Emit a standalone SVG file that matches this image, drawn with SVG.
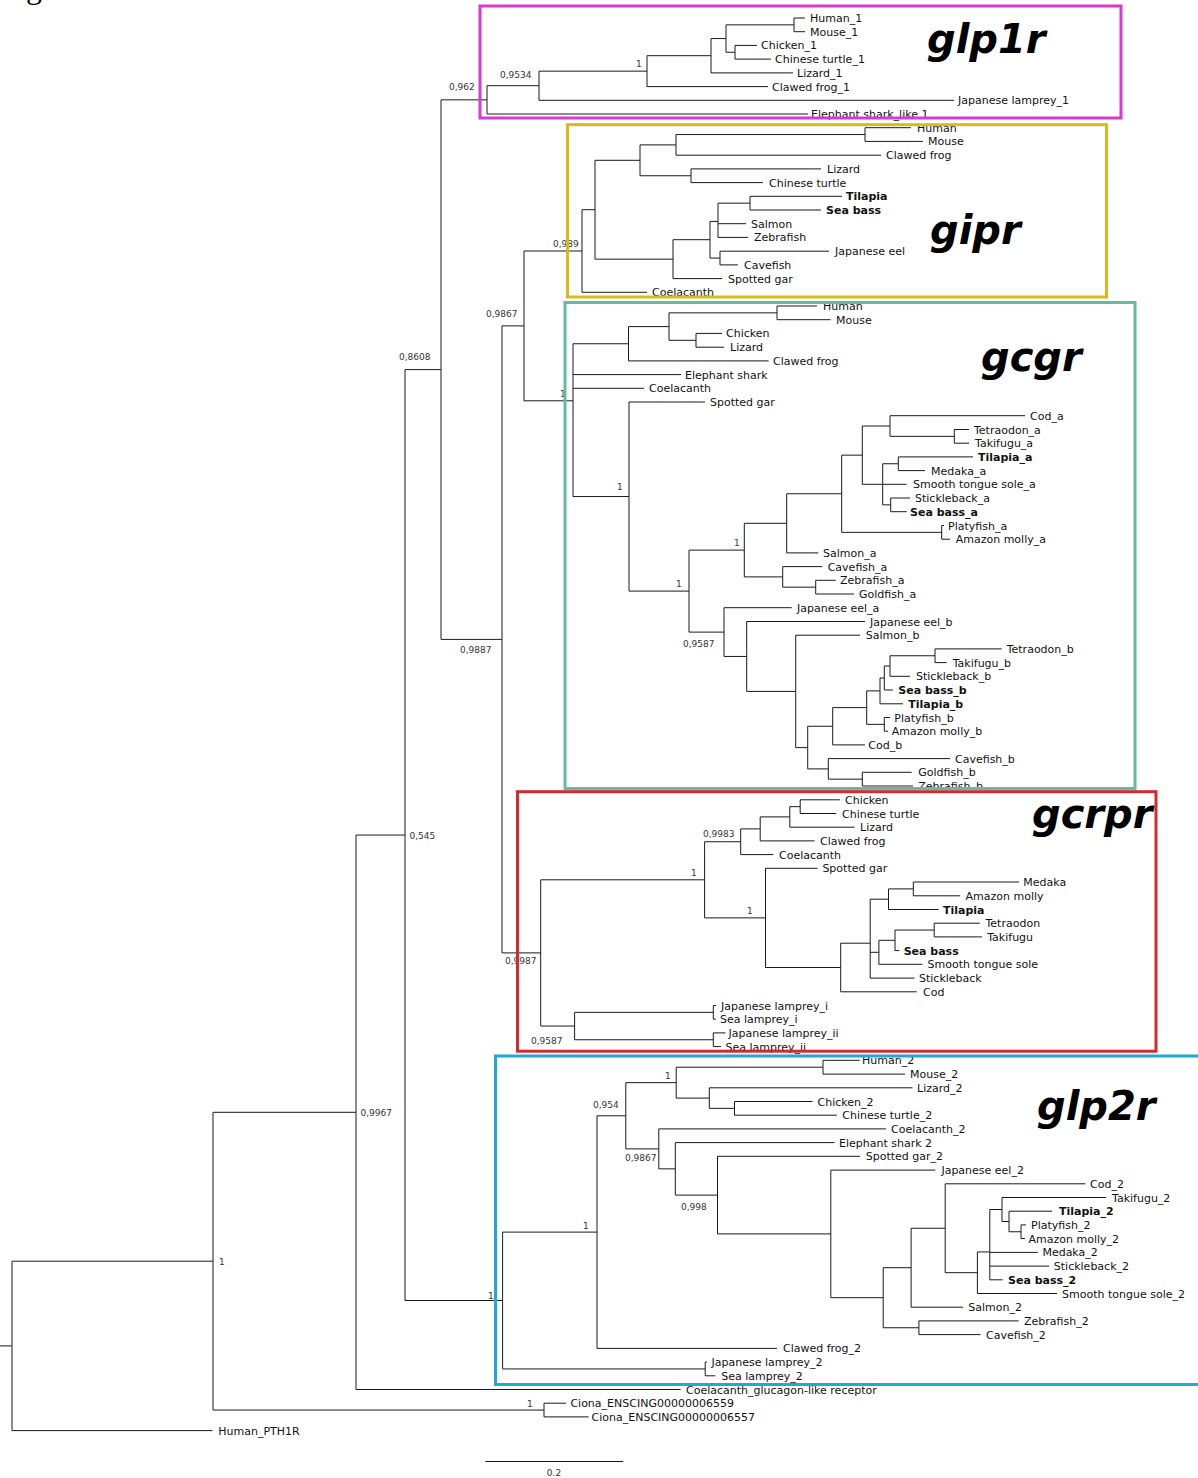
<svg xmlns="http://www.w3.org/2000/svg" width="1198" height="1478" viewBox="0 0 1198 1478">
<style>
.br{fill:none;stroke:#1a1a1a;stroke-width:1}
.t{font-family:"DejaVu Sans",sans-serif;font-size:11px;fill:#111}
.b{font-weight:bold}
.s{font-family:"DejaVu Sans",sans-serif;font-size:9px;fill:#333}
.ttl{font-family:"DejaVu Sans",sans-serif;font-size:40px;font-weight:bold;font-style:italic;fill:#000}
.box{fill:none;stroke-width:3}
</style>
<rect width="1198" height="1478" fill="#fff"/>
<text x="26" y="-2" font-family="Liberation Serif" font-size="32" fill="#000">g</text>
<g id="connectors">
<path class="br" d="M0 1345.9H12 M12 1261.2V1430.6 M12 1261.2H213 M12 1430.6H212.5 M213 1112.3V1410.05 M213 1112.3H356 M213 1410.05H544 M544 1403.2V1416.9 M544 1403.2H566 M544 1416.9H588.7 M356 835.05V1389.5 M356 835.05H405 M356 1389.5H680.6 M405 369.6V1300.5 M405 369.6H441 M405 1300.5H502.6 M441 99.85V639.4 M441 99.85H487 M441 639.4H502 M502 325.9V952.9 M502 325.9H524 M502 952.9H540.7 M524 251V400.8 M524 251H582 M524 400.8H573"/>
<path class="br" d="M487 85.7V114 M487 85.7H539 M487 114H808 M539 71.15V100.3 M539 71.15H647 M539 100.3H954 M647 55.7V86.6 M647 55.7H711 M647 86.6H768 M711 38.55V72.9 M711 38.55H726 M711 72.9H793 M726 24.85V52.25 M726 24.85H794 M726 52.25H735 M794 18V31.7 M794 18H805 M794 31.7H805 M735 45.4V59.1 M735 45.4H757 M735 59.1H771"/>
<path class="br" d="M582 209.7V292.3 M582 209.7H595 M582 292.3H647 M595 160.3V259.15 M595 160.3H640 M595 259.15H673 M640 144.9V175.75 M640 144.9H676 M640 175.75H691 M676 134.55V155.2 M676 134.55H865 M676 155.2H881 M865 127.7V141.4 M865 127.7H911 M865 141.4H923 M691 168.9V182.6 M691 168.9H821 M691 182.6H763 M673 239.7V278.6 M673 239.7H710 M673 278.6H722 M710 221.4V258.05 M710 221.4H718 M710 258.05H720 M718 203.15V237.4 M718 203.15H750 M718 223.7H746 M718 237.4H748 M750 196.3V210 M750 196.3H842 M750 210H821 M720 251.2V264.9 M720 251.2H829 M720 264.9H738"/>
<path class="br" d="M573 343.75V496.55 M573 343.75H628.5 M573 374.6H681 M573 388.3H644 M573 496.55H629 M628.5 326.6V360.9 M628.5 326.6H669 M628.5 360.9H768.6 M669 312.85V340.3 M669 312.85H777 M669 340.3H696 M777 306V319.7 M777 306H817 M777 319.7H830.6 M696 333.4V347.2 M696 333.4H722 M696 347.2H724 M629 402V591.1 M629 402H705 M629 591.1H689 M689 550.1V632.1 M689 550.1H744.3 M689 632.1H724 M744.3 523.3V576.9 M744.3 523.3H786.7 M744.3 576.9H782.7 M786.7 493.75V552.9 M786.7 493.75H841.7 M786.7 552.9H818.3 M841.7 455.15V532.35 M841.7 455.15H862.3 M841.7 532.35H941.7 M862.3 426V484.3 M862.3 426H890 M862.3 484.3H882.7 M890 415.7V436.35 M890 415.7H1025 M890 436.35H954.3 M954.3 429.5V443.2 M954.3 429.5H969 M954.3 443.2H969 M882.7 463.75V504.85 M882.7 463.75H898.3 M882.7 484.3H906.7 M882.7 504.85H890.7 M898.3 456.9V470.6 M898.3 456.9H973 M898.3 470.6H925 M890.7 498V511.7 M890.7 498H910 M890.7 511.7H906.7 M941.7 525.5V539.2 M941.7 525.5H944 M941.7 539.2H950 M782.7 566.6V587.15 M782.7 566.6H822.3 M782.7 587.15H815.7 M815.7 580.3V594 M815.7 580.3H835.7 M815.7 594H854 M724 607.7V656.45 M724 607.7H791.7 M724 656.45H746.7 M746.7 621.5V691.4 M746.7 621.5H865 M746.7 691.4H795.7 M795.7 635.2V747.6 M795.7 635.2H860 M795.7 747.6H807.7 M807.7 726.25V768.9 M807.7 726.25H832.7 M807.7 768.9H828.3 M832.7 707.6V744.9 M832.7 707.6H866.7 M832.7 744.9H865 M866.7 690.9V724.35 M866.7 690.9H880 M866.7 724.35H884.3 M880 678V703.8 M880 678H884.3 M880 703.8H903 M884.3 666V690 M884.3 666H890 M884.3 690H893 M890 655.75V676.3 M890 655.75H935 M890 676.3H910 M935 648.9V662.6 M935 648.9H1001.7 M935 662.6H946.7 M884.3 717.5V731.2 M884.3 717.5H890 M884.3 731.2H888 M828.3 758.6V779.15 M828.3 758.6H950 M828.3 779.15H862.3 M862.3 772.3V786 M862.3 772.3H911.7 M862.3 786H913"/>
<path class="br" d="M540.7 879.8V1026.05 M540.7 879.8H704.6 M540.7 1026.05H574.6 M704.6 841.75V917.9 M704.6 841.75H740.7 M704.6 917.9H765.5 M740.7 828.9V854.6 M740.7 828.9H760.2 M740.7 854.6H773.3 M760.2 816.9V840.9 M760.2 816.9H789.8 M760.2 840.9H814.6 M789.8 806.65V827.2 M789.8 806.65H800.2 M789.8 827.2H854.6 M800.2 799.8V813.5 M800.2 799.8H839.8 M800.2 813.5H836.3 M765.5 868.3V967.5 M765.5 868.3H817.6 M765.5 967.5H840.7 M840.7 943.2V991.8 M840.7 943.2H870.2 M840.7 991.8H916.8 M870.2 899.2V978.1 M870.2 899.2H888.5 M870.2 952.3H878.9 M870.2 978.1H914.6 M888.5 888.9V909.5 M888.5 888.9H913.3 M888.5 909.5H938.5 M913.3 882V895.8 M913.3 882H1019 M913.3 895.8H960.2 M878.9 940.3V964.3 M878.9 940.3H895 M878.9 964.3H922.4 M895 930.05V950.6 M895 930.05H934.2 M895 950.6H899.4 M934.2 923.2V936.9 M934.2 923.2H979.8 M934.2 936.9H982 M574.6 1012.35V1039.75 M574.6 1012.35H713.3 M574.6 1039.75H713.3 M713.3 1005.5V1019.2 M713.3 1005.5H716 M713.3 1019.2H716 M713.3 1032.9V1046.6 M713.3 1032.9H725.5 M713.3 1046.6H721"/>
<path class="br" d="M502.6 1232.1V1368.95 M502.6 1232.1H597 M502.6 1368.95H705.2 M705.2 1362.1V1375.8 M705.2 1362.1H707 M705.2 1375.8H715.3 M597 1115.8V1348.4 M597 1115.8H625.8 M597 1348.4H777 M625.8 1082.65V1148.9 M625.8 1082.65H676.2 M625.8 1148.9H658.8 M676.2 1067.2V1098.1 M676.2 1067.2H823 M676.2 1098.1H709.3 M823 1060.3V1074.1 M823 1060.3H859.7 M823 1074.1H905 M709.3 1087.8V1108.35 M709.3 1087.8H912.5 M709.3 1108.35H734.5 M734.5 1101.5V1115.2 M734.5 1101.5H812.5 M734.5 1115.2H836.8 M658.8 1128.9V1168.85 M658.8 1128.9H886 M658.8 1168.85H675.3 M675.3 1142.6V1195.1 M675.3 1142.6H834.5 M675.3 1195.1H717.5 M717.5 1156.3V1233.9 M717.5 1156.3H860 M717.5 1233.9H830.8 M830.8 1170.1V1297.7 M830.8 1170.1H935.4 M830.8 1297.7H883.2 M883.2 1267.7V1327.75 M883.2 1267.7H911.1 M883.2 1327.75H918.9 M918.9 1320.9V1334.6 M918.9 1320.9H1018.6 M918.9 1334.6H980.6 M911.1 1228.25V1307.2 M911.1 1228.25H945.2 M911.1 1307.2H963.2 M945.2 1183.8V1272.7 M945.2 1183.8H1085.4 M945.2 1272.7H977.4 M977.4 1251.95V1293.5 M977.4 1251.95H989.8 M977.4 1293.5H1057 M989.8 1209.5V1279.8 M989.8 1209.5H1002 M989.8 1252.4H1037.8 M989.8 1266.1H1049.2 M989.8 1279.8H1002.6 M1002 1197.5V1221.5 M1002 1197.5H1106 M1002 1221.5H1009 M1009 1211.2V1231.75 M1009 1211.2H1052 M1009 1231.75H1021 M1021 1224.9V1238.6 M1021 1224.9H1026 M1021 1238.6H1025"/>
<path class="br" d="M485.4 1461.5H623.2"/>
</g>
<g id="backbone-labels">
<text class="s" x="399" y="360">0,8608</text>
<text class="s" x="486" y="316.5">0,9867</text>
<text class="s" x="460" y="652.5">0,9887</text>
<text class="s" x="409.5" y="838.5">0,545</text>
<text class="s" x="360.5" y="1115.5">0,9967</text>
<text class="s" x="219" y="1265">1</text>
<text class="s" x="527" y="1406.5">1</text>
<text class="t" x="686" y="1393.5">Coelacanth_glucagon-like receptor</text>
<text class="t" x="570.4" y="1407.2">Ciona_ENSCING00000006559</text>
<text class="t" x="591.6" y="1420.9">Ciona_ENSCING00000006557</text>
<text class="t" x="218.3" y="1434.6">Human_PTH1R</text>
<text class="s" x="554" y="1476" text-anchor="middle" font-size="10">0.2</text>
</g>
<g id="clade-glp1r">
<text class="s" x="449" y="90">0,962</text>
<text class="s" x="500" y="78">0,9534</text>
<text class="s" x="636" y="67">1</text>
<text class="t" x="810" y="22">Human_1</text>
<text class="t" x="810" y="35.7">Mouse_1</text>
<text class="t" x="761" y="49.4">Chicken_1</text>
<text class="t" x="775" y="63.1">Chinese turtle_1</text>
<text class="t" x="797" y="76.9">Lizard_1</text>
<text class="t" x="772" y="90.6">Clawed frog_1</text>
<text class="t" x="958" y="104.3">Japanese lamprey_1</text>
<text class="t" x="811" y="118">Elephant shark_like 1</text>
<rect class="box" x="480" y="6" width="641" height="112" stroke="#d63ad3"/>
<text class="ttl" x="927" y="53">glp1r</text>
</g>
<g id="clade-gipr">
<text class="s" x="553" y="246.5">0,989</text>
<text class="t" x="917" y="131.7">Human</text>
<text class="t" x="928" y="145.4">Mouse</text>
<text class="t" x="886" y="159.2">Clawed frog</text>
<text class="t" x="827" y="172.9">Lizard</text>
<text class="t" x="769" y="186.6">Chinese turtle</text>
<text class="t b" x="846" y="200.3">Tilapia</text>
<text class="t b" x="826" y="214">Sea bass</text>
<text class="t" x="751" y="227.7">Salmon</text>
<text class="t" x="754" y="241.4">Zebrafish</text>
<text class="t" x="835" y="255.2">Japanese eel</text>
<text class="t" x="744" y="268.9">Cavefish</text>
<text class="t" x="728" y="282.6">Spotted gar</text>
<text class="t" x="652" y="296.3">Coelacanth</text>
<rect class="box" x="567.5" y="124.7" width="539" height="172.3" stroke="#d5bc1d"/>
<text class="ttl" x="930" y="244">gipr</text>
</g>
<g id="clade-gcgr">
<text class="s" x="560" y="396.5">1</text>
<text class="s" x="617" y="490">1</text>
<text class="s" x="734" y="546">1</text>
<text class="s" x="676" y="587">1</text>
<text class="s" x="683" y="646.5">0,9587</text>
<text class="t" x="823" y="310">Human</text>
<text class="t" x="836" y="323.7">Mouse</text>
<text class="t" x="726" y="337.4">Chicken</text>
<text class="t" x="730" y="351.2">Lizard</text>
<text class="t" x="773" y="364.9">Clawed frog</text>
<text class="t" x="685" y="378.6">Elephant shark</text>
<text class="t" x="649" y="392.3">Coelacanth</text>
<text class="t" x="710" y="406">Spotted gar</text>
<text class="t" x="1030" y="419.7">Cod_a</text>
<text class="t" x="974" y="433.5">Tetraodon_a</text>
<text class="t" x="975" y="447.2">Takifugu_a</text>
<text class="t b" x="978" y="460.9">Tilapia_a</text>
<text class="t" x="931" y="474.6">Medaka_a</text>
<text class="t" x="913" y="488.3">Smooth tongue sole_a</text>
<text class="t" x="915" y="502">Stickleback_a</text>
<text class="t b" x="910" y="515.7">Sea bass_a</text>
<text class="t" x="948" y="529.5">Platyfish_a</text>
<text class="t" x="955.7" y="543.2">Amazon molly_a</text>
<text class="t" x="823" y="556.9">Salmon_a</text>
<text class="t" x="827.7" y="570.6">Cavefish_a</text>
<text class="t" x="840" y="584.3">Zebrafish_a</text>
<text class="t" x="859" y="598">Goldfish_a</text>
<text class="t" x="797" y="611.7">Japanese eel_a</text>
<text class="t" x="870" y="625.5">Japanese eel_b</text>
<text class="t" x="865.7" y="639.2">Salmon_b</text>
<text class="t" x="1006.7" y="652.9">Tetraodon_b</text>
<text class="t" x="952.7" y="666.6">Takifugu_b</text>
<text class="t" x="916" y="680.3">Stickleback_b</text>
<text class="t b" x="898.3" y="694">Sea bass_b</text>
<text class="t b" x="908.3" y="707.8">Tilapia_b</text>
<text class="t" x="894.3" y="721.5">Platyfish_b</text>
<text class="t" x="891.7" y="735.2">Amazon molly_b</text>
<text class="t" x="868.3" y="748.9">Cod_b</text>
<text class="t" x="955" y="762.6">Cavefish_b</text>
<text class="t" x="918.3" y="776.3">Goldfish_b</text>
<text class="t" x="918.3" y="790">Zebrafish_b</text>
<rect class="box" x="565" y="302.5" width="570" height="486" stroke="#62bd9d"/>
<text class="ttl" x="981" y="371">gcgr</text>
</g>
<g id="clade-gcrpr">
<text class="s" x="505" y="964">0,9987</text>
<text class="s" x="691" y="876">1</text>
<text class="s" x="703" y="837">0,9983</text>
<text class="s" x="747" y="913.5">1</text>
<text class="s" x="531" y="1043.5">0,9587</text>
<text class="t" x="845" y="803.8">Chicken</text>
<text class="t" x="842" y="817.5">Chinese turtle</text>
<text class="t" x="860" y="831.2">Lizard</text>
<text class="t" x="820" y="844.9">Clawed frog</text>
<text class="t" x="779" y="858.6">Coelacanth</text>
<text class="t" x="822.4" y="872.3">Spotted gar</text>
<text class="t" x="1023.3" y="886">Medaka</text>
<text class="t" x="965.5" y="899.8">Amazon molly</text>
<text class="t b" x="943" y="913.5">Tilapia</text>
<text class="t" x="985.5" y="927.2">Tetraodon</text>
<text class="t" x="987.2" y="940.9">Takifugu</text>
<text class="t b" x="903.7" y="954.6">Sea bass</text>
<text class="t" x="927.6" y="968.3">Smooth tongue sole</text>
<text class="t" x="919" y="982.1">Stickleback</text>
<text class="t" x="923" y="995.8">Cod</text>
<text class="t" x="721" y="1009.5">Japanese lamprey_i</text>
<text class="t" x="720" y="1023.2">Sea lamprey_i</text>
<text class="t" x="728.5" y="1036.9">Japanese lamprey_ii</text>
<text class="t" x="725.5" y="1050.6">Sea lamprey_ii</text>
<rect class="box" x="517.5" y="791.7" width="638.5" height="259.5" stroke="#d42a2a"/>
<text class="ttl" x="1032" y="827.5">gcrpr</text>
</g>
<g id="clade-glp2r">
<text class="s" x="488" y="1298.5">1</text>
<text class="s" x="583" y="1228.5">1</text>
<text class="s" x="593" y="1107.5">0,954</text>
<text class="s" x="665" y="1078.5">1</text>
<text class="s" x="625" y="1160.5">0,9867</text>
<text class="s" x="681" y="1210">0,998</text>
<text class="t" x="862" y="1064.3">Human_2</text>
<text class="t" x="910" y="1078.1">Mouse_2</text>
<text class="t" x="917" y="1091.8">Lizard_2</text>
<text class="t" x="817.5" y="1105.5">Chicken_2</text>
<text class="t" x="842.3" y="1119.2">Chinese turtle_2</text>
<text class="t" x="891" y="1132.9">Coelacanth_2</text>
<text class="t" x="839" y="1146.6">Elephant shark 2</text>
<text class="t" x="865.7" y="1160.3">Spotted gar_2</text>
<text class="t" x="941.4" y="1174.1">Japanese eel_2</text>
<text class="t" x="1090" y="1187.8">Cod_2</text>
<text class="t" x="1112" y="1201.5">Takifugu_2</text>
<text class="t b" x="1059" y="1215.2">Tilapia_2</text>
<text class="t" x="1031" y="1228.9">Platyfish_2</text>
<text class="t" x="1028.6" y="1242.6">Amazon molly_2</text>
<text class="t" x="1042.4" y="1256.4">Medaka_2</text>
<text class="t" x="1053.8" y="1270.1">Stickleback_2</text>
<text class="t b" x="1008" y="1283.8">Sea bass_2</text>
<text class="t" x="1062" y="1297.5">Smooth tongue sole_2</text>
<text class="t" x="968.3" y="1311.2">Salmon_2</text>
<text class="t" x="1024" y="1324.9">Zebrafish_2</text>
<text class="t" x="986" y="1338.6">Cavefish_2</text>
<text class="t" x="783" y="1352.4">Clawed frog_2</text>
<text class="t" x="711.6" y="1366.1">Japanese lamprey_2</text>
<text class="t" x="721.2" y="1379.8">Sea lamprey_2</text>
<rect class="box" x="495.5" y="1056" width="710" height="328.5" stroke="#1eaad2"/>
<text class="ttl" x="1037" y="1120">glp2r</text>
</g>
</svg>
